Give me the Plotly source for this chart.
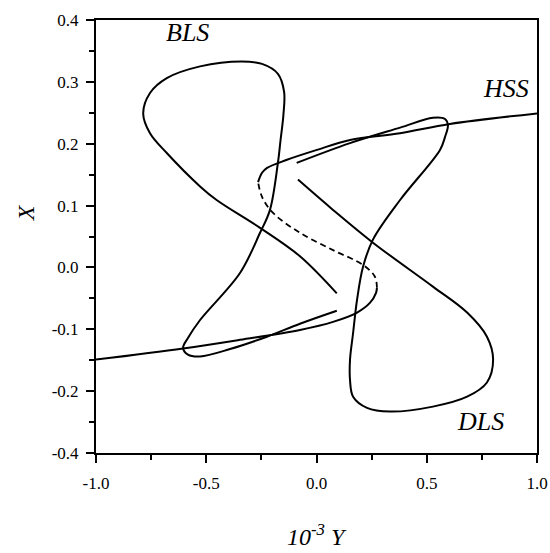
import plotly.graph_objects as go

# HSS branch (stable lower, unstable middle, stable upper)
hss_low_x = [-1.0, -0.605, -0.347, -0.075, 0.075, 0.184, 0.243, 0.270, 0.274]
hss_low_y = [-0.149, -0.131, -0.117, -0.101, -0.088, -0.073, -0.057, -0.041, -0.033]
hss_mid_x = [0.274, 0.265, 0.211, 0.075, -0.075, -0.197, -0.247, -0.265]
hss_mid_y = [-0.033, -0.015, 0.004, 0.028, 0.056, 0.088, 0.114, 0.138]
hss_up_x = [-0.265, -0.247, -0.224, -0.134, 0.002, 0.152, 0.379, 0.605, 1.0]
hss_up_y = [0.138, 0.153, 0.161, 0.174, 0.190, 0.206, 0.217, 0.232, 0.249]

# BLS loop
bls_x = [0.092, -0.075, -0.256, -0.453, -0.528, -0.679, -0.755, -0.786, -0.755, -0.679,
         -0.528, -0.340, -0.247, -0.175, -0.147, -0.150, -0.163, -0.175, -0.211, -0.256,
         -0.347, -0.528, -0.583, -0.605, -0.583, -0.528, -0.392, -0.225, -0.075, 0.092]
bls_y = [-0.042, 0.018, 0.064, 0.109, 0.131, 0.185, 0.217, 0.249, 0.282, 0.306,
         0.325, 0.333, 0.329, 0.313, 0.284, 0.247, 0.206, 0.169, 0.093, 0.056,
         -0.009, -0.085, -0.114, -0.130, -0.141, -0.144, -0.132, -0.112, -0.091, -0.070]

# DLS loop
dls_x = [-0.090, 0.152, 0.379, 0.528, 0.583, 0.596, 0.583, 0.560, 0.379, 0.256,
         0.211, 0.184, 0.166, 0.152, 0.152, 0.166, 0.229, 0.333, 0.528, 0.683,
         0.773, 0.801, 0.773, 0.683, 0.528, 0.256, 0.075, -0.084]
dls_y = [0.169, 0.201, 0.226, 0.242, 0.240, 0.230, 0.211, 0.190, 0.109, 0.045,
         0.001, -0.052, -0.106, -0.149, -0.182, -0.209, -0.227, -0.233, -0.225, -0.209,
         -0.186, -0.149, -0.112, -0.073, -0.031, 0.040, 0.093, 0.142]

labels = ["BLS", "HSS", "DLS"]
label_x = [-0.583, 0.859, 0.746]
label_y = [0.379, 0.290, -0.249]

xtick_vals = [-1.0, -0.5, 0.0, 0.5, 1.0]
xtick_text = ["-1.0", "-0.5", "0.0", "0.5", "1.0"]
ytick_vals = [0.4, 0.3, 0.2, 0.1, 0.0, -0.1, -0.2, -0.3]
ytick_text = ["0.4", "0.3", "0.2", "0.1", "0.0", "-0.1", "-0.2", "-0.4"]

FONT = "Liberation Serif"
line = dict(color="black", width=2, shape="spline", smoothing=1.0)

fig = go.Figure()
fig.add_trace(go.Scatter(x=hss_low_x, y=hss_low_y, mode="lines", line=line))
fig.add_trace(go.Scatter(x=hss_mid_x, y=hss_mid_y, mode="lines",
                         line=dict(line, dash="6px,4px", width=1.8)))
fig.add_trace(go.Scatter(x=hss_up_x, y=hss_up_y, mode="lines", line=line))
fig.add_trace(go.Scatter(x=bls_x, y=bls_y, mode="lines", line=line))
fig.add_trace(go.Scatter(x=dls_x, y=dls_y, mode="lines", line=line))

for t, x, y in zip(labels, label_x, label_y):
    fig.add_annotation(x=x, y=y, text=f"<i>{t}</i>", showarrow=False,
                       font=dict(family=FONT, size=26, color="black"))

axis_common = dict(showline=True, linecolor="black", linewidth=2, mirror=True,
                   ticks="outside", ticklen=8, tickwidth=1.5, tickcolor="black",
                   showgrid=False, zeroline=False, automargin=False,
                   tickfont=dict(family=FONT, size=17, color="black"))

fig.update_layout(
    width=550, height=553,
    margin=dict(l=96, r=13, t=20, b=100),
    paper_bgcolor="white", plot_bgcolor="white",
    showlegend=False,
    xaxis=dict(axis_common, range=[-1.0, 1.0], tickmode="array",
               tickvals=xtick_vals, ticktext=xtick_text, ticklabelstandoff=6,
               minor=dict(ticks="outside", ticklen=5, tickwidth=1.5, tickcolor="black",
                          tickvals=[-0.75, -0.25, 0.25, 0.75])),
    yaxis=dict(axis_common, range=[-0.3, 0.4], tickmode="array",
               tickvals=ytick_vals, ticktext=ytick_text, ticklabelstandoff=4,
               minor=dict(ticks="outside", ticklen=5, tickwidth=1.5, tickcolor="black",
                          tickvals=[0.35, 0.25, 0.15, 0.05, -0.05, -0.15, -0.25])),
)

# axis titles as paper annotations
fig.add_annotation(x=-0.16, y=0.555, xref="paper", yref="paper", text="<i>X</i>",
                   showarrow=False, textangle=-90, xanchor="center", yanchor="middle",
                   font=dict(family=FONT, size=24, color="black"))
fig.add_annotation(x=0.5, y=-0.19, xref="paper", yref="paper",
                   text="<i>10<sup>-3</sup> Y</i>", showarrow=False,
                   xanchor="center", yanchor="middle",
                   font=dict(family=FONT, size=24, color="black"))

fig.write_html("out.html")
